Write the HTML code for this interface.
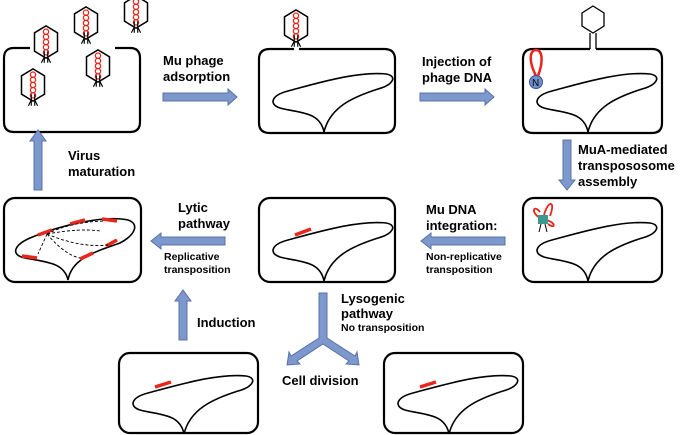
<!DOCTYPE html>
<html><head><meta charset="utf-8"><style>
body{margin:0;background:#fff}
svg{display:block}
text{font-family:"Liberation Sans",Arial,sans-serif;font-weight:bold;fill:#000}
.b{fill:none;stroke:#000;stroke-width:2.2}
.l{fill:none;stroke:#000;stroke-width:1.6}
.r{stroke:#e8261c;stroke-width:3.5;stroke-linecap:butt}
.ar{fill:#7d98cc;stroke:#5872a8;stroke-width:1}
.t{font-size:13px}
.s{font-size:10.5px}
</style></head><body>
<svg width="685" height="435" viewBox="0 0 685 435" xmlns="http://www.w3.org/2000/svg">
<defs>
<path id="loop" d="M66,83 C62,62 40,64 22,59 C10,55 14,46 30,42 C60,34 100,22 128,25 C140,27 135,36 120,40 C95,48 72,58 66,83" class="l"/>
<g id="phage">
<g transform="scale(1.15)">
<polygon points="0,-14 10,-8 10,8 0,14 -10,8 -10,-8" fill="#fff" stroke="#000" stroke-width="1.3"/>
<g fill="none" stroke="#e8261c" stroke-width="1.1">
<circle cx="0" cy="-9" r="2.3"/><circle cx="0" cy="-4.5" r="2.3"/><circle cx="0" cy="0" r="2.3"/><circle cx="0" cy="4.5" r="2.3"/><circle cx="0" cy="9" r="2.3"/></g>
<path d="M-1.5,8 V18 M1.5,8 V18 M-4,18 L-1.5,13 M4,18 L1.5,13" stroke="#000" stroke-width="1" fill="none"/>
</g>
</g>
</defs>

<!-- Row 1 -->
<path class="b" d="M30,48 H14 Q4,48 4,58 V122 Q4,132 14,132 H130 Q140,132 140,122 V58 Q140,48 130,48 H115"/>
<use href="#phage" x="46" y="42"/>
<use href="#phage" x="86" y="23"/>
<use href="#phage" x="136" y="12"/>
<use href="#phage" x="98" y="66"/>
<use href="#phage" x="33" y="85"/>

<path class="b" d="M294,49 H270 Q259,49 259,59 V123 Q259,133 270,133 H384 Q395,133 395,123 V59 Q395,49 384,49 H299"/>
<use href="#phage" x="296" y="26"/>
<use href="#loop" x="258" y="49"/>

<path class="b" d="M590,49 H533 Q523,49 523,59 V123 Q523,133 533,133 H652 Q662,133 662,123 V59 Q662,49 652,49 H596"/>
<polygon points="593,6 604,13 604,26 593,33 582,26 582,13" fill="none" stroke="#000" stroke-width="1.3"/>
<path d="M590,33 V49 M596,33 V49" stroke="#000" stroke-width="1.3"/>
<use href="#loop" x="522" y="49"/>
<path d="M536,76 C528,60 530,50 536,50 C542,50 544,60 538,76" fill="none" stroke="#e8261c" stroke-width="2.5"/>
<circle cx="536" cy="82" r="6.5" fill="#6f8fcf" stroke="#3b4f86"/>
<text x="532" y="86" style="font-size:10px;font-weight:normal">N</text>

<!-- Row 2 -->
<rect class="b" x="4" y="198" width="137" height="84" rx="11"/>
<path class="l" d="M68,280 C64,262 45,262 25,258 C10,255 14,245 30,238 C60,225 105,215 128,220 C140,224 135,235 120,243 C95,252 72,258 68,280"/>
<g class="r"><line x1="38" y1="235" x2="52" y2="230"/><line x1="70" y1="224" x2="85" y2="220"/><line x1="102" y1="219" x2="117" y2="221"/><line x1="106" y1="246" x2="117" y2="240"/><line x1="22" y1="256" x2="37" y2="258"/><line x1="80" y1="259" x2="93" y2="253"/></g>
<g fill="none" stroke="#000" stroke-width="0.9" stroke-dasharray="3,2"><path d="M47,234 Q70,222 105,221"/><path d="M47,234 Q80,228 100,231"/><path d="M47,234 Q80,248 108,245"/><path d="M47,234 Q65,255 80,258"/><path d="M47,234 L38,254"/></g>

<rect class="b" x="259" y="198" width="136" height="84" rx="11"/>
<use href="#loop" x="258" y="198"/>
<line class="r" x1="295" y1="235" x2="311" y2="229"/>

<rect class="b" x="523" y="198" width="139" height="84" rx="11"/>
<use href="#loop" x="522" y="198"/>
<g fill="none" stroke="#e8261c" stroke-width="1.8"><path d="M540,218 C530,212 534,204 540,212"/><path d="M544,215 C548,200 556,200 550,216"/><path d="M546,220 C556,222 556,230 548,224"/></g>
<rect x="538" y="215" width="10" height="9" fill="#3a9a8c"/>
<path d="M541,224 L539,232 M545,224 L547,232" stroke="#000" stroke-width="1"/>

<!-- Row 3 -->
<rect class="b" x="119" y="353" width="139" height="80" rx="11"/>
<use href="#loop" x="118" y="351"/>
<line class="r" x1="155" y1="387" x2="171" y2="382"/>
<rect class="b" x="384" y="353" width="139" height="80" rx="11"/>
<use href="#loop" x="383" y="351"/>
<line class="r" x1="420" y1="387" x2="436" y2="382"/>

<!-- Arrows -->
<polygon class="ar" points="163,93 228,93 228,89 237,97 228,105 228,101 163,101"/>
<polygon class="ar" points="420,93 485,93 485,89 494,97 485,105 485,101 420,101"/>
<polygon class="ar" points="563,140 571,140 571,180 575,180 567,190 559,180 563,180"/>
<polygon class="ar" points="505,237 431,237 431,233 421,241 431,249 431,245 505,245"/>
<polygon class="ar" points="225,237 161,237 161,233 151,241 161,249 161,245 225,245"/>
<polygon class="ar" points="34,190 42,190 42,141 46,141 38,130 30,141 34,141"/>
<polygon class="ar" points="179,340 187,340 187,301 191,301 183,290 175,301 179,301"/>
<polygon class="ar" points="319,293 327,293 327,338 355,356 357,352 359,365 346,364 349,361 323,344 297,361 300,364 287,365 289,352 291,356 319,338"/>

<!-- Labels -->
<text class="t" x="163" y="65">Mu phage</text>
<text class="t" x="163" y="81">adsorption</text>
<text class="t" x="422" y="66">Injection of</text>
<text class="t" x="422" y="82">phage DNA</text>
<text class="t" x="578" y="154">MuA-mediated</text>
<text class="t" x="578" y="170">transpososome</text>
<text class="t" x="578" y="186">assembly</text>
<text class="t" x="426" y="214">Mu DNA</text>
<text class="t" x="426" y="230">integration:</text>
<text class="s" x="426" y="260">Non-replicative</text>
<text class="s" x="426" y="273">transposition</text>
<text class="t" x="178" y="212">Lytic</text>
<text class="t" x="178" y="228">pathway</text>
<text class="s" x="164" y="260">Replicative</text>
<text class="s" x="164" y="273">transposition</text>
<text class="t" x="68" y="160">Virus</text>
<text class="t" x="68" y="176">maturation</text>
<text class="t" x="197" y="327">Induction</text>
<text class="t" x="341" y="303">Lysogenic</text>
<text class="t" x="341" y="318">pathway</text>
<text class="s" x="341" y="331">No transposition</text>
<text class="t" x="282" y="385">Cell division</text>
</svg>
</body></html>
